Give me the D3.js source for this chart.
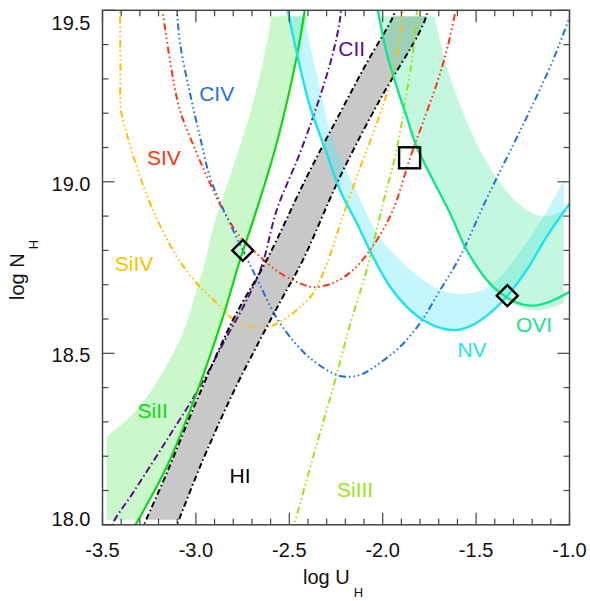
<!DOCTYPE html>
<html><head><meta charset="utf-8">
<script src="https://cdn.jsdelivr.net/npm/d3@7"></script>
<style>body{margin:0;background:#fff}text{font-family:"Liberation Sans",Arial,Helvetica,sans-serif}</style>
</head><body><svg id="c" width="590" height="601"></svg>
<script>
// ---------- data ----------
const xDomain = [-3.5, -1.0];
const yDomain = [18.0, 19.5];
const xTicks = [-3.5, -3.0, -2.5, -2.0, -1.5, -1.0];
const xTickLabels = ["-3.5", "-3.0", "-2.5", "-2.0", "-1.5", "-1.0"];
const yTicks = [18.0, 18.5, 19.0, 19.5];
const yTickLabels = ["18.0", "18.5", "19.0", "19.5"];
const bandU = [-3.478, -1.03];
const bandN = [18.015, 19.483];

// curves [log U, log N]
const SiIV = [[-3.407,19.55],[-3.404,19.35],[-3.402,19.21],[-3.39,19.18],[-3.317,19.044],[-3.23,18.918],[-3.103,18.782],[-2.996,18.705],[-2.889,18.647],[-2.782,18.592],[-2.71,18.578],[-2.603,18.578],[-2.55,18.592],[-2.46,18.626],[-2.371,18.676],[-2.30,18.76],[-2.213,18.90],[-2.122,19.04],[-2.032,19.17],[-1.96,19.29],[-1.915,19.40],[-1.887,19.52]];
const SIV = [[-3.186,19.53],[-3.139,19.355],[-3.085,19.208],[-2.996,19.084],[-2.925,18.996],[-2.855,18.918],[-2.764,18.84],[-2.657,18.782],[-2.55,18.734],[-2.443,18.704],[-2.373,18.693],[-2.266,18.705],[-2.159,18.743],[-2.052,18.813],[-1.945,18.918],[-1.854,19.069],[-1.774,19.189],[-1.704,19.297],[-1.650,19.399],[-1.598,19.53]];
const CIV = [[-3.105,19.53],[-3.085,19.405],[-3.032,19.259],[-2.978,19.131],[-2.925,19.014],[-2.871,18.941],[-2.801,18.859],[-2.728,18.778],[-2.657,18.699],[-2.567,18.603],[-2.460,18.524],[-2.353,18.471],[-2.229,18.434],[-2.122,18.437],[-2.015,18.472],[-1.907,18.519],[-1.80,18.588],[-1.693,18.684],[-1.586,18.782],[-1.442,18.953],[-1.302,19.107],[-1.195,19.227],[-1.088,19.355],[-0.981,19.507]];
const CII = [[-3.455,17.97],[-3.444,18.004],[-3.337,18.093],[-3.156,18.247],[-2.978,18.403],[-2.835,18.548],[-2.728,18.655],[-2.646,18.757],[-2.567,18.918],[-2.443,19.084],[-2.336,19.248],[-2.266,19.376],[-2.229,19.472],[-2.22,19.53]];
const SiII = [[-3.345,17.98],[-3.156,18.169],[-2.996,18.384],[-2.855,18.606],[-2.764,18.772],[-2.675,18.918],[-2.567,19.113],[-2.460,19.365],[-2.412,19.52]];
const HIlow = [[-3.295,17.98],[-3.156,18.151],[-2.978,18.385],[-2.801,18.598],[-2.621,18.772],[-2.407,19.014],[-2.229,19.2],[-2.086,19.346],[-1.945,19.481],[-1.92,19.52]];
const HIhigh = [[-3.115,17.98],[-2.978,18.169],[-2.801,18.385],[-2.657,18.539],[-2.543,18.656],[-2.427,18.772],[-2.229,19.014],[-2.015,19.239],[-1.811,19.428],[-1.768,19.481],[-1.755,19.52]];
const SiIII = [[-2.484,17.98],[-2.372,18.199],[-2.264,18.403],[-2.175,18.583],[-2.086,18.743],[-1.998,18.938],[-1.925,19.094],[-1.872,19.259],[-1.836,19.384],[-1.814,19.52]];
const NV = [[-2.52,19.53],[-2.46,19.376],[-2.389,19.219],[-2.30,19.084],[-2.229,18.976],[-2.139,18.88],[-2.052,18.782],[-1.961,18.694],[-1.872,18.636],[-1.784,18.597],[-1.693,18.574],[-1.604,18.568],[-1.517,18.583],[-1.426,18.617],[-1.336,18.665],[-1.229,18.743],[-1.122,18.84],[-0.997,18.938]];
const NVband = [[-2.44,19.53],[-2.346,19.297],[-2.266,19.122],[-2.132,18.962],[-2.025,18.845],[-1.907,18.772],[-1.80,18.720],[-1.693,18.685],[-1.586,18.673],[-1.479,18.682],[-1.388,18.714],[-1.302,18.769],[-1.195,18.851],[-1.088,18.947],[-0.97,19.063]];
const OVI = [[-2.036,19.53],[-1.979,19.376],[-1.925,19.277],[-1.872,19.19],[-1.818,19.102],[-1.731,19.005],[-1.640,18.909],[-1.550,18.801],[-1.443,18.714],[-1.372,18.677],[-1.283,18.648],[-1.195,18.639],[-1.104,18.651],[-0.997,18.68]];
const OVIbandTop = [[-1.74,19.53],[-1.667,19.355],[-1.586,19.224],[-1.479,19.093],[-1.372,18.997],[-1.265,18.932],[-1.158,18.90],[-1.078,18.906],[-0.97,18.935]];
const OVIbandLow = [[-2.036,19.53],[-1.979,19.376],[-1.925,19.277],[-1.872,19.19],[-1.818,19.102],[-1.731,19.005],[-1.640,18.909],[-1.550,18.801],[-1.443,18.708],[-1.372,18.667],[-1.281,18.638],[-1.195,18.626],[-1.104,18.632],[-0.97,18.661]];
const SiIIband = [[-3.6,17.9],[-3.6,18.19],[-3.478,18.256],[-3.370,18.306],[-3.263,18.373],[-3.156,18.466],[-3.069,18.559],[-3.005,18.670],[-2.951,18.766],[-2.908,18.865],[-2.801,19.043],[-2.694,19.23],[-2.603,19.457],[-2.59,19.53]];

const diamonds = [[-2.749, 18.80], [-1.333, 18.668]];
const squares = [[-1.856, 19.07]];

const species = ["SiIV","SIV","CIV","CII","SiII","HI","SiIII","NV","OVI"];
const speciesColor = ["#ffbf00","#ff3311","#1f6fe6","#5b0e8c","#11d611","#000000","#9be31a","#1fe2ef","#17e38a"];
const speciesLabelU = [-3.331,-3.171,-2.889,-2.166,-3.231,-2.764,-2.148,-1.522,-1.190];
const speciesLabelN = [18.740,19.049,19.235,19.367,18.311,18.123,18.081,18.490,18.563];

// ---------- drawing ----------
const svg = d3.select("#c");
const L = 102.5, R = 569.5, T = 10.3, B = 524.8;
const x = d3.scaleLinear().domain(xDomain).range([L, R]);
const y = d3.scaleLinear().domain(yDomain).range([B, T]);

const defs = svg.append("defs");
defs.append("clipPath").attr("id","plot").append("rect")
  .attr("x",L).attr("y",T).attr("width",R-L).attr("height",B-T);
defs.append("clipPath").attr("id","band").append("rect")
  .attr("x",x(bandU[0])).attr("y",y(bandN[1]))
  .attr("width",x(bandU[1])-x(bandU[0])).attr("height",y(bandN[0])-y(bandN[1]));

const line = d3.line().x(d=>x(d[0])).y(d=>y(d[1])).curve(d3.curveCatmullRom.alpha(0.5));
function bandPath(a, b){ // a forward, b reversed
  return line(a) + "L" + line(b.slice().reverse()).slice(1) + "Z";
}

const gb = svg.append("g").attr("clip-path","url(#band)");
gb.append("path").attr("d", line(SiIIband.concat(SiII.slice().reverse())) + "Z")
  .attr("fill","#8cf08c").attr("fill-opacity",0.45);
gb.append("path").attr("d", bandPath(HIlow, HIhigh)).attr("fill","#c8c8c8");
gb.append("path").attr("d", bandPath(NVband, NV)).attr("fill","#5ae6f5").attr("fill-opacity",0.35);
gb.append("path").attr("d", bandPath(OVIbandTop, OVIbandLow)).attr("fill","#3ce696").attr("fill-opacity",0.3);

const gl = svg.append("g").attr("clip-path","url(#plot)").attr("fill","none");
const ddd = "7,3,1.5,3,1.5,3,1.5,3";
const lines = [
  [SiIV, speciesColor[0], ddd, 2],
  [SIV, speciesColor[1], ddd, 2],
  [CIV, speciesColor[2], ddd, 2],
  [CII, speciesColor[3], "7,3,1.5,3", 2],
  [SiII, speciesColor[4], null, 2.2],
  [HIlow, speciesColor[5], "6,3,1.5,3", 2],
  [HIhigh, speciesColor[5], "6,3,1.5,3", 2],
  [SiIII, speciesColor[6], "7,3,1.5,3,1.5,3", 2],
  [NV, speciesColor[7], null, 2.4],
  [OVI, speciesColor[8], null, 2.4]
];
lines.forEach(([d,c,da,w])=>{
  const p = gl.append("path").attr("d", line(d)).attr("stroke", c).attr("stroke-width", w);
  if (da) p.attr("stroke-dasharray", da);
});

// markers
const gm = svg.append("g").attr("fill","none").attr("stroke","#000").attr("stroke-width",2.4);
diamonds.forEach(([u,n])=>{
  const cx=x(u), cy=y(n), r=10.5;
  gm.append("path").attr("d",`M${cx},${cy-r}L${cx+r},${cy}L${cx},${cy+r}L${cx-r},${cy}Z`);
});
squares.forEach(([u,n])=>{
  const cx=x(u), cy=y(n), h=10.5;
  gm.append("rect").attr("x",cx-h).attr("y",cy-h).attr("width",2*h).attr("height",2*h);
});

// labels
species.forEach((s,i)=>{
  svg.append("text").attr("x",x(speciesLabelU[i])).attr("y",y(speciesLabelN[i]))
    .attr("text-anchor","middle").attr("font-size",21).attr("fill",speciesColor[i]).text(s);
});

// axes frame and ticks
const ga = svg.append("g");
const axisColor = "#444";
ga.append("rect").attr("x",L).attr("y",T).attr("width",R-L).attr("height",B-T)
  .attr("fill","none").attr("stroke",axisColor).attr("stroke-width",1.5);
const xMinor = d3.range(-3.5, -0.99, 0.1);
const yMinor = d3.range(18.0, 19.51, 0.1);
function isMajor(v){ return Math.abs(v*2 - Math.round(v*2)) < 1e-6; }
xMinor.forEach(v=>{
  const len = isMajor(v) ? 12 : 6, px = x(v);
  ga.append("line").attr("x1",px).attr("x2",px).attr("y1",B).attr("y2",B-len).attr("stroke",axisColor).attr("stroke-width",1.2);
  ga.append("line").attr("x1",px).attr("x2",px).attr("y1",T).attr("y2",T+len).attr("stroke",axisColor).attr("stroke-width",1.2);
});
yMinor.forEach(v=>{
  const len = isMajor(v) ? 12 : 6, py = y(v);
  ga.append("line").attr("x1",L).attr("x2",L+len).attr("y1",py).attr("y2",py).attr("stroke",axisColor).attr("stroke-width",1.2);
  ga.append("line").attr("x1",R).attr("x2",R-len).attr("y1",py).attr("y2",py).attr("stroke",axisColor).attr("stroke-width",1.2);
});
xTicks.forEach((v,i)=>{
  ga.append("text").attr("x",x(v)).attr("y",B+32).attr("text-anchor","middle")
    .attr("font-size",20).attr("fill","#111").text(xTickLabels[i]);
});
yTicks.forEach((v,i)=>{
  const cy = Math.min(Math.max(y(v)+2, T+13), B-6);
  ga.append("text").attr("x",L-12).attr("y",cy+7).attr("text-anchor","end")
    .attr("font-size",20).attr("fill","#111").text(yTickLabels[i]);
});

// axis titles
const xt = svg.append("text").attr("x",303).attr("y",584).attr("font-size",20).attr("fill","#111");
xt.append("tspan").text("log U");
xt.append("tspan").attr("dx",4).attr("dy",13).attr("font-size",13).text("H");
const yt = svg.append("text").attr("transform","translate(24,300) rotate(-90)").attr("font-size",20).attr("fill","#111");
yt.append("tspan").text("log N");
yt.append("tspan").attr("dx",4).attr("dy",14).attr("font-size",13).text("H");
</script></body></html>
